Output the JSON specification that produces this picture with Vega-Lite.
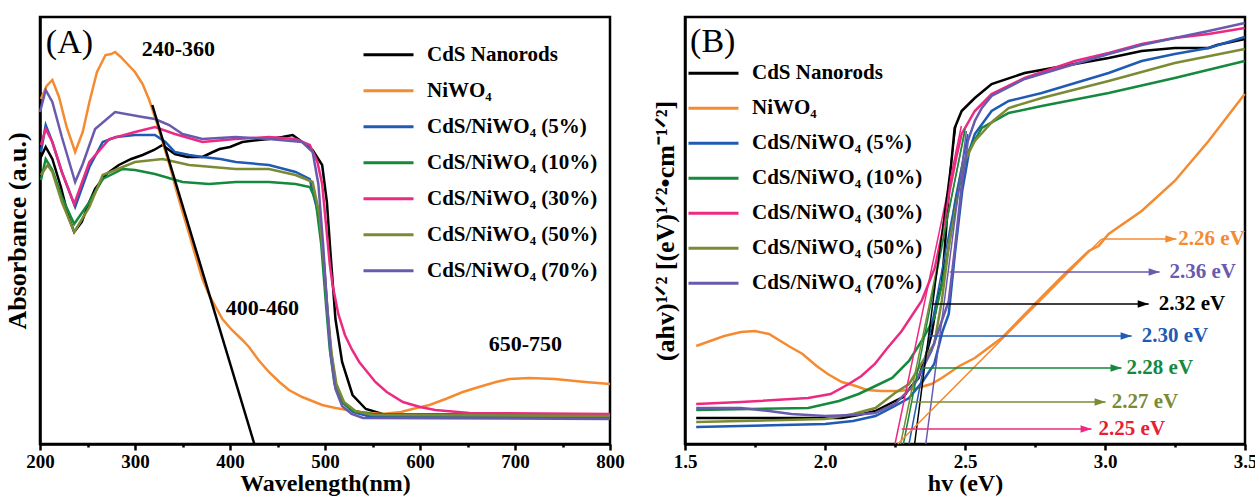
{
  "$schema": "https://vega.github.io/schema/vega-lite/v6.json",
  "background": "white",
  "padding": {"left": 2, "top": 15, "right": 0, "bottom": 0},
  "bounds": "flush",
  "spacing": 75,
  "config": {
    "view": {"stroke": "black", "strokeWidth": 2.5},
    "font": "Liberation Serif",
    "axis": {"domainColor": "black", "domainWidth": 2.5, "tickColor": "black", "tickWidth": 2.5, "labelFont": "Liberation Serif", "labelFontWeight": "bold", "labelFontSize": 19, "labelColor": "black", "titleFont": "Liberation Serif", "titleFontWeight": "bold", "titleFontSize": 26, "titleColor": "black", "grid": false},
    "axisX": {"labelPadding": 2, "titlePadding": 0, "titleFontSize": 24, "labelFlush": false, "labelOverlap": false},
    "axisY": {"ticks": false, "labels": false, "titlePadding": 10},
    "legend": {"orient": "none", "symbolType": "stroke", "symbolSize": 2500, "symbolStrokeWidth": 3, "labelFont": "Liberation Serif", "labelFontWeight": "bold", "labelFontSize": 21, "labelColor": "black", "labelOffset": 12, "labelLimit": 400, "rowPadding": 0, "padding": 0, "title": null}
  },
  "resolve": {"scale": {"color": "independent", "fill": "independent"}, "legend": {"color": "independent"}},
  "datasets": {
    "A": [
      {"s":"CdS","x":200,"y":2.85},{"s":"CdS","x":206,"y":2.97},{"s":"CdS","x":213,"y":2.85},{"s":"CdS","x":222,"y":2.57},{"s":"CdS","x":230,"y":2.27},{"s":"CdS","x":236,"y":2.12},{"s":"CdS","x":244,"y":2.22},{"s":"CdS","x":252,"y":2.42},{"s":"CdS","x":258,"y":2.55},{"s":"CdS","x":270,"y":2.70},{"s":"CdS","x":283,"y":2.79},{"s":"CdS","x":296,"y":2.85},{"s":"CdS","x":308,"y":2.89},{"s":"CdS","x":320,"y":2.94},{"s":"CdS","x":329,"y":2.99},{"s":"CdS","x":336,"y":2.94},{"s":"CdS","x":342,"y":2.90},{"s":"CdS","x":355,"y":2.87},{"s":"CdS","x":371,"y":2.87},{"s":"CdS","x":382,"y":2.92},{"s":"CdS","x":389,"y":2.95},{"s":"CdS","x":400,"y":2.97},{"s":"CdS","x":413,"y":3.02},{"s":"CdS","x":430,"y":3.04},{"s":"CdS","x":441,"y":3.05},{"s":"CdS","x":455,"y":3.07},{"s":"CdS","x":466,"y":3.09},{"s":"CdS","x":476,"y":3.02},{"s":"CdS","x":487,"y":2.94},{"s":"CdS","x":497,"y":2.79},{"s":"CdS","x":502,"y":2.42},{"s":"CdS","x":505.7,"y":1.92},{"s":"CdS","x":511,"y":1.25},{"s":"CdS","x":518,"y":0.82},{"s":"CdS","x":529,"y":0.49},{"s":"CdS","x":543,"y":0.35},{"s":"CdS","x":564,"y":0.29},{"s":"CdS","x":600,"y":0.27},{"s":"CdS","x":700,"y":0.27},{"s":"CdS","x":800,"y":0.27},
      {"s":"NiWO4","x":201,"y":3.45},{"s":"NiWO4","x":207,"y":3.58},{"s":"NiWO4","x":213,"y":3.64},{"s":"NiWO4","x":220,"y":3.47},{"s":"NiWO4","x":228,"y":3.17},{"s":"NiWO4","x":237,"y":2.92},{"s":"NiWO4","x":245,"y":3.12},{"s":"NiWO4","x":252,"y":3.42},{"s":"NiWO4","x":260,"y":3.72},{"s":"NiWO4","x":269,"y":3.89},{"s":"NiWO4","x":275,"y":3.90},{"s":"NiWO4","x":279,"y":3.92},{"s":"NiWO4","x":285,"y":3.87},{"s":"NiWO4","x":292,"y":3.80},{"s":"NiWO4","x":300,"y":3.72},{"s":"NiWO4","x":308,"y":3.60},{"s":"NiWO4","x":315,"y":3.44},{"s":"NiWO4","x":322,"y":3.24},{"s":"NiWO4","x":329,"y":3.02},{"s":"NiWO4","x":336,"y":2.80},{"s":"NiWO4","x":344,"y":2.52},{"s":"NiWO4","x":350,"y":2.32},{"s":"NiWO4","x":357,"y":2.10},{"s":"NiWO4","x":364,"y":1.87},{"s":"NiWO4","x":371,"y":1.65},{"s":"NiWO4","x":378,"y":1.49},{"s":"NiWO4","x":385,"y":1.37},{"s":"NiWO4","x":392,"y":1.25},{"s":"NiWO4","x":402,"y":1.14},{"s":"NiWO4","x":413,"y":1.04},{"s":"NiWO4","x":420,"y":0.97},{"s":"NiWO4","x":430,"y":0.84},{"s":"NiWO4","x":441,"y":0.72},{"s":"NiWO4","x":452,"y":0.62},{"s":"NiWO4","x":462,"y":0.54},{"s":"NiWO4","x":476,"y":0.47},{"s":"NiWO4","x":497,"y":0.39},{"s":"NiWO4","x":511,"y":0.36},{"s":"NiWO4","x":536,"y":0.32},{"s":"NiWO4","x":560,"y":0.30},{"s":"NiWO4","x":580,"y":0.32},{"s":"NiWO4","x":592,"y":0.35},{"s":"NiWO4","x":610,"y":0.39},{"s":"NiWO4","x":627,"y":0.45},{"s":"NiWO4","x":645,"y":0.52},{"s":"NiWO4","x":662,"y":0.57},{"s":"NiWO4","x":680,"y":0.62},{"s":"NiWO4","x":694,"y":0.65},{"s":"NiWO4","x":715,"y":0.66},{"s":"NiWO4","x":742,"y":0.65},{"s":"NiWO4","x":774,"y":0.62},{"s":"NiWO4","x":800,"y":0.60},
      {"s":"5","x":201,"y":2.92},{"s":"5","x":206,"y":3.19},{"s":"5","x":213,"y":3.02},{"s":"5","x":223,"y":2.72},{"s":"5","x":237,"y":2.37},{"s":"5","x":252,"y":2.77},{"s":"5","x":266,"y":3.02},{"s":"5","x":280,"y":3.07},{"s":"5","x":300,"y":3.09},{"s":"5","x":321,"y":3.09},{"s":"5","x":332,"y":3.02},{"s":"5","x":342,"y":2.92},{"s":"5","x":357,"y":2.89},{"s":"5","x":371,"y":2.87},{"s":"5","x":390,"y":2.85},{"s":"5","x":406,"y":2.82},{"s":"5","x":441,"y":2.79},{"s":"5","x":469,"y":2.72},{"s":"5","x":484,"y":2.65},{"s":"5","x":487,"y":2.52},{"s":"5","x":493,"y":2.30},{"s":"5","x":498,"y":1.90},{"s":"5","x":502,"y":1.40},{"s":"5","x":506,"y":0.95},{"s":"5","x":511,"y":0.60},{"s":"5","x":518,"y":0.42},{"s":"5","x":530,"y":0.32},{"s":"5","x":545,"y":0.28},{"s":"5","x":600,"y":0.27},{"s":"5","x":800,"y":0.27},
      {"s":"10","x":201,"y":2.64},{"s":"10","x":206,"y":2.85},{"s":"10","x":213,"y":2.74},{"s":"10","x":223,"y":2.47},{"s":"10","x":236,"y":2.20},{"s":"10","x":252,"y":2.42},{"s":"10","x":266,"y":2.65},{"s":"10","x":287,"y":2.75},{"s":"10","x":300,"y":2.74},{"s":"10","x":321,"y":2.70},{"s":"10","x":350,"y":2.62},{"s":"10","x":378,"y":2.60},{"s":"10","x":406,"y":2.62},{"s":"10","x":441,"y":2.62},{"s":"10","x":469,"y":2.60},{"s":"10","x":484,"y":2.57},{"s":"10","x":490,"y":2.45},{"s":"10","x":496,"y":2.00},{"s":"10","x":501,"y":1.40},{"s":"10","x":505,"y":0.95},{"s":"10","x":510,"y":0.60},{"s":"10","x":518,"y":0.42},{"s":"10","x":530,"y":0.33},{"s":"10","x":550,"y":0.30},{"s":"10","x":800,"y":0.29},
      {"s":"30","x":201,"y":2.99},{"s":"30","x":206,"y":3.15},{"s":"30","x":213,"y":3.02},{"s":"30","x":223,"y":2.72},{"s":"30","x":236,"y":2.40},{"s":"30","x":252,"y":2.82},{"s":"30","x":273,"y":3.05},{"s":"30","x":300,"y":3.12},{"s":"30","x":321,"y":3.17},{"s":"30","x":342,"y":3.10},{"s":"30","x":371,"y":3.02},{"s":"30","x":406,"y":3.05},{"s":"30","x":441,"y":3.07},{"s":"30","x":469,"y":3.05},{"s":"30","x":484,"y":2.99},{"s":"30","x":492,"y":2.82},{"s":"30","x":497,"y":2.60},{"s":"30","x":502,"y":2.10},{"s":"30","x":505,"y":1.80},{"s":"30","x":508,"y":1.59},{"s":"30","x":514,"y":1.30},{"s":"30","x":521,"y":1.09},{"s":"30","x":528,"y":0.95},{"s":"30","x":536,"y":0.82},{"s":"30","x":553,"y":0.62},{"s":"30","x":565,"y":0.52},{"s":"30","x":582,"y":0.42},{"s":"30","x":600,"y":0.37},{"s":"30","x":616,"y":0.34},{"s":"30","x":652,"y":0.31},{"s":"30","x":800,"y":0.30},
      {"s":"50","x":201,"y":2.69},{"s":"50","x":208,"y":2.79},{"s":"50","x":213,"y":2.72},{"s":"50","x":223,"y":2.42},{"s":"50","x":236,"y":2.12},{"s":"50","x":252,"y":2.37},{"s":"50","x":266,"y":2.69},{"s":"50","x":300,"y":2.82},{"s":"50","x":329,"y":2.85},{"s":"50","x":357,"y":2.79},{"s":"50","x":406,"y":2.75},{"s":"50","x":441,"y":2.75},{"s":"50","x":469,"y":2.69},{"s":"50","x":487,"y":2.62},{"s":"50","x":494,"y":2.30},{"s":"50","x":499,"y":1.80},{"s":"50","x":503,"y":1.30},{"s":"50","x":507,"y":0.90},{"s":"50","x":512,"y":0.60},{"s":"50","x":520,"y":0.42},{"s":"50","x":532,"y":0.33},{"s":"50","x":550,"y":0.29},{"s":"50","x":800,"y":0.28},
      {"s":"70","x":200,"y":3.32},{"s":"70","x":206,"y":3.54},{"s":"70","x":213,"y":3.42},{"s":"70","x":223,"y":3.07},{"s":"70","x":237,"y":2.62},{"s":"70","x":245,"y":2.80},{"s":"70","x":258,"y":3.15},{"s":"70","x":279,"y":3.32},{"s":"70","x":308,"y":3.27},{"s":"70","x":321,"y":3.25},{"s":"70","x":336,"y":3.19},{"s":"70","x":350,"y":3.10},{"s":"70","x":371,"y":3.05},{"s":"70","x":406,"y":3.07},{"s":"70","x":441,"y":3.05},{"s":"70","x":476,"y":3.02},{"s":"70","x":487,"y":2.92},{"s":"70","x":493,"y":2.60},{"s":"70","x":498,"y":2.00},{"s":"70","x":502,"y":1.40},{"s":"70","x":506,"y":0.90},{"s":"70","x":511,"y":0.55},{"s":"70","x":518,"y":0.38},{"s":"70","x":528,"y":0.30},{"s":"70","x":540,"y":0.26},{"s":"70","x":800,"y":0.25}
    ],
    "Atan": [{"x":318.2,"y":3.39},{"x":425.6,"y":0}],
    "Alab": [{"x":345.6,"y":3.95,"t":"240-360"},{"x":434,"y":1.36,"t":"400-460"},{"x":711,"y":1.0,"t":"650-750"}],
    "B": [
      {"s":"CdS","x":1.54,"y":0.26},{"s":"CdS","x":1.8,"y":0.26},{"s":"CdS","x":2.06,"y":0.26},{"s":"CdS","x":2.12,"y":0.29},{"s":"CdS","x":2.18,"y":0.33},{"s":"CdS","x":2.25,"y":0.43},{"s":"CdS","x":2.28,"y":0.47},{"s":"CdS","x":2.30,"y":0.55},{"s":"CdS","x":2.334,"y":0.66},{"s":"CdS","x":2.36,"y":0.88},{"s":"CdS","x":2.381,"y":1.10},{"s":"CdS","x":2.40,"y":1.43},{"s":"CdS","x":2.417,"y":1.60},{"s":"CdS","x":2.427,"y":1.93},{"s":"CdS","x":2.445,"y":2.63},{"s":"CdS","x":2.463,"y":3.16},{"s":"CdS","x":2.488,"y":3.33},{"s":"CdS","x":2.535,"y":3.46},{"s":"CdS","x":2.595,"y":3.60},{"s":"CdS","x":2.713,"y":3.71},{"s":"CdS","x":2.892,"y":3.80},{"s":"CdS","x":3.013,"y":3.86},{"s":"CdS","x":3.131,"y":3.93},{"s":"CdS","x":3.249,"y":3.96},{"s":"CdS","x":3.37,"y":3.96},{"s":"CdS","x":3.40,"y":3.99},{"s":"CdS","x":3.499,"y":4.05},
      {"s":"NiWO4","x":1.54,"y":0.98},{"s":"NiWO4","x":1.64,"y":1.08},{"s":"NiWO4","x":1.70,"y":1.12},{"s":"NiWO4","x":1.75,"y":1.13},{"s":"NiWO4","x":1.80,"y":1.10},{"s":"NiWO4","x":1.87,"y":0.98},{"s":"NiWO4","x":1.92,"y":0.90},{"s":"NiWO4","x":1.97,"y":0.78},{"s":"NiWO4","x":2.01,"y":0.70},{"s":"NiWO4","x":2.06,"y":0.62},{"s":"NiWO4","x":2.11,"y":0.58},{"s":"NiWO4","x":2.15,"y":0.54},{"s":"NiWO4","x":2.20,"y":0.53},{"s":"NiWO4","x":2.27,"y":0.53},{"s":"NiWO4","x":2.33,"y":0.56},{"s":"NiWO4","x":2.38,"y":0.60},{"s":"NiWO4","x":2.417,"y":0.66},{"s":"NiWO4","x":2.48,"y":0.78},{"s":"NiWO4","x":2.535,"y":0.86},{"s":"NiWO4","x":2.631,"y":1.06},{"s":"NiWO4","x":2.749,"y":1.40},{"s":"NiWO4","x":2.856,"y":1.70},{"s":"NiWO4","x":2.942,"y":1.93},{"s":"NiWO4","x":2.977,"y":1.98},{"s":"NiWO4","x":3.013,"y":2.10},{"s":"NiWO4","x":3.131,"y":2.33},{"s":"NiWO4","x":3.249,"y":2.63},{"s":"NiWO4","x":3.37,"y":3.03},{"s":"NiWO4","x":3.499,"y":3.50},
      {"s":"5","x":1.54,"y":0.17},{"s":"5","x":2.0,"y":0.20},{"s":"5","x":2.10,"y":0.23},{"s":"5","x":2.18,"y":0.28},{"s":"5","x":2.25,"y":0.38},{"s":"5","x":2.30,"y":0.46},{"s":"5","x":2.35,"y":0.63},{"s":"5","x":2.39,"y":0.80},{"s":"5","x":2.42,"y":1.13},{"s":"5","x":2.442,"y":1.30},{"s":"5","x":2.465,"y":1.93},{"s":"5","x":2.49,"y":2.53},{"s":"5","x":2.515,"y":2.93},{"s":"5","x":2.535,"y":3.10},{"s":"5","x":2.595,"y":3.33},{"s":"5","x":2.656,"y":3.43},{"s":"5","x":2.774,"y":3.51},{"s":"5","x":3.013,"y":3.71},{"s":"5","x":3.131,"y":3.83},{"s":"5","x":3.249,"y":3.90},{"s":"5","x":3.37,"y":3.96},{"s":"5","x":3.499,"y":4.07},
      {"s":"10","x":1.54,"y":0.34},{"s":"10","x":1.94,"y":0.36},{"s":"10","x":2.05,"y":0.43},{"s":"10","x":2.12,"y":0.50},{"s":"10","x":2.18,"y":0.58},{"s":"10","x":2.24,"y":0.66},{"s":"10","x":2.30,"y":0.83},{"s":"10","x":2.345,"y":1.03},{"s":"10","x":2.39,"y":1.26},{"s":"10","x":2.42,"y":1.63},{"s":"10","x":2.445,"y":2.03},{"s":"10","x":2.47,"y":2.43},{"s":"10","x":2.49,"y":2.73},{"s":"10","x":2.513,"y":2.93},{"s":"10","x":2.56,"y":3.16},{"s":"10","x":2.656,"y":3.31},{"s":"10","x":2.774,"y":3.38},{"s":"10","x":3.013,"y":3.51},{"s":"10","x":3.249,"y":3.66},{"s":"10","x":3.499,"y":3.83},
      {"s":"30","x":1.54,"y":0.40},{"s":"30","x":1.70,"y":0.42},{"s":"30","x":1.94,"y":0.46},{"s":"30","x":2.02,"y":0.50},{"s":"30","x":2.085,"y":0.60},{"s":"30","x":2.13,"y":0.68},{"s":"30","x":2.178,"y":0.80},{"s":"30","x":2.22,"y":0.95},{"s":"30","x":2.274,"y":1.13},{"s":"30","x":2.345,"y":1.43},{"s":"30","x":2.392,"y":1.76},{"s":"30","x":2.42,"y":2.13},{"s":"30","x":2.445,"y":2.53},{"s":"30","x":2.47,"y":2.88},{"s":"30","x":2.488,"y":3.10},{"s":"30","x":2.535,"y":3.33},{"s":"30","x":2.595,"y":3.50},{"s":"30","x":2.713,"y":3.66},{"s":"30","x":2.892,"y":3.83},{"s":"30","x":3.013,"y":3.91},{"s":"30","x":3.131,"y":4.00},{"s":"30","x":3.249,"y":4.06},{"s":"30","x":3.37,"y":4.10},{"s":"30","x":3.499,"y":4.16},
      {"s":"50","x":1.54,"y":0.22},{"s":"50","x":2.0,"y":0.25},{"s":"50","x":2.10,"y":0.30},{"s":"50","x":2.18,"y":0.36},{"s":"50","x":2.25,"y":0.51},{"s":"50","x":2.30,"y":0.60},{"s":"50","x":2.35,"y":0.83},{"s":"50","x":2.39,"y":1.00},{"s":"50","x":2.417,"y":1.43},{"s":"50","x":2.44,"y":1.93},{"s":"50","x":2.465,"y":2.43},{"s":"50","x":2.49,"y":2.78},{"s":"50","x":2.535,"y":3.03},{"s":"50","x":2.60,"y":3.23},{"s":"50","x":2.656,"y":3.36},{"s":"50","x":2.774,"y":3.46},{"s":"50","x":3.013,"y":3.63},{"s":"50","x":3.249,"y":3.81},{"s":"50","x":3.499,"y":3.95},
      {"s":"70","x":1.54,"y":0.36},{"s":"70","x":1.70,"y":0.36},{"s":"70","x":1.80,"y":0.33},{"s":"70","x":1.88,"y":0.30},{"s":"70","x":2.0,"y":0.28},{"s":"70","x":2.10,"y":0.29},{"s":"70","x":2.18,"y":0.31},{"s":"70","x":2.25,"y":0.40},{"s":"70","x":2.32,"y":0.60},{"s":"70","x":2.38,"y":0.93},{"s":"70","x":2.442,"y":1.43},{"s":"70","x":2.463,"y":1.93},{"s":"70","x":2.49,"y":2.63},{"s":"70","x":2.51,"y":3.03},{"s":"70","x":2.535,"y":3.23},{"s":"70","x":2.56,"y":3.36},{"s":"70","x":2.595,"y":3.48},{"s":"70","x":2.713,"y":3.65},{"s":"70","x":2.892,"y":3.80},{"s":"70","x":3.013,"y":3.90},{"s":"70","x":3.131,"y":3.99},{"s":"70","x":3.249,"y":4.06},{"s":"70","x":3.37,"y":4.13},{"s":"70","x":3.499,"y":4.21}
    ],
    "Btan": [
      {"s":"30","x":2.25,"y":0},{"s":"30","x":2.487,"y":3.18},
      {"s":"50","x":2.27,"y":0},{"s":"50","x":2.50,"y":3.13},
      {"s":"10","x":2.28,"y":0},{"s":"10","x":2.50,"y":3.15},
      {"s":"5","x":2.30,"y":0},{"s":"5","x":2.51,"y":3.10},
      {"s":"CdS","x":2.32,"y":0},{"s":"CdS","x":2.468,"y":3.20},
      {"s":"70","x":2.36,"y":0},{"s":"70","x":2.505,"y":3.13},
      {"s":"NiWO4","x":2.26,"y":0},{"s":"NiWO4","x":2.988,"y":2.05}
    ],
    "Barr": [
      {"s":"70","x":2.445,"x2":3.195,"y":1.72},
      {"s":"CdS","x":2.381,"x2":3.156,"y":1.40},
      {"s":"5","x":2.370,"x2":3.095,"y":1.08},
      {"s":"10","x":2.345,"x2":3.059,"y":0.76},
      {"s":"50","x":2.309,"x2":3.002,"y":0.42},
      {"s":"30","x":2.274,"x2":2.952,"y":0.15},
      {"s":"NiWO4","x":2.988,"x2":3.255,"y":2.05}
    ],
    "Blab": [
      {"s":"70","x":3.23,"y":1.72,"t":"2.36 eV"},
      {"s":"CdS","x":3.192,"y":1.40,"t":"2.32 eV"},
      {"s":"5","x":3.131,"y":1.08,"t":"2.30 eV"},
      {"s":"10","x":3.077,"y":0.76,"t":"2.28 eV"},
      {"s":"50","x":3.024,"y":0.42,"t":"2.27 eV"},
      {"s":"30","x":2.977,"y":0.15,"t":"2.25 eV"},
      {"s":"NiWO4","x":3.262,"y":2.05,"t":"2.26 eV"}
    ]
  },
  "hconcat": [
    {
      "width": 570,
      "height": 427,
      "layer": [
        {
          "data": {"name": "A"},
          "mark": {"type": "line", "strokeWidth": 2.5},
          "encoding": {
            "x": {"field": "x", "type": "quantitative", "scale": {"domain": [200, 800], "nice": false},
              "axis": {"title": "Wavelength(nm)", "values": [200,250,300,350,400,450,500,550,600,650,700,750,800],
                "labelExpr": "datum.value % 100 === 0 ? datum.label : ''",
                "tickSize": {"condition": {"test": "datum.value % 100 === 0", "value": 6}, "value": 3}}},
            "y": {"field": "y", "type": "quantitative", "scale": {"domain": [0, 4.27], "nice": false}, "axis": {"title": "Absorbance (a.u.)"}},
            "color": {"field": "s", "type": "nominal",
              "scale": {"domain": ["CdS","NiWO4","5","10","30","50","70"], "range": ["#000000","#f48b31","#1f5bb4","#15893d","#ec2a82","#7b8b34","#6a5aae"]},
              "legend": {"legendX": 322, "legendY": 20, "clipHeight": 35.5, "labelExpr": "datum.label == 'CdS' ? 'CdS Nanorods' : datum.label == 'NiWO4' ? 'NiWO₄' : 'CdS/NiWO₄ (' + datum.label + '%)'"}}
          }
        },
        {
          "data": {"name": "Atan"},
          "mark": {"type": "line", "color": "black", "strokeWidth": 2.5},
          "encoding": {"x": {"field": "x", "type": "quantitative"}, "y": {"field": "y", "type": "quantitative"}}
        },
        {
          "data": {"name": "Alab"},
          "mark": {"type": "text", "font": "Liberation Serif", "fontWeight": "bold", "fontSize": 22, "color": "black", "align": "center", "baseline": "middle"},
          "encoding": {"x": {"field": "x", "type": "quantitative"}, "y": {"field": "y", "type": "quantitative"}, "text": {"field": "t"}}
        },
        {
          "data": {"values": [{"x": 231, "y": 4.01, "t": "(A)"}]},
          "mark": {"type": "text", "font": "Liberation Serif", "fontWeight": "normal", "fontSize": 34, "color": "black", "align": "center", "baseline": "middle"},
          "encoding": {"x": {"field": "x", "type": "quantitative"}, "y": {"field": "y", "type": "quantitative"}, "text": {"field": "t"}}
        }
      ]
    },
    {
      "width": 560,
      "height": 427,
      "layer": [
        {
          "data": {"name": "B"},
          "mark": {"type": "line", "strokeWidth": 2.5},
          "encoding": {
            "x": {"field": "x", "type": "quantitative", "scale": {"domain": [1.5, 3.5], "nice": false},
              "axis": {"title": "hv (eV)", "values": [1.5,1.75,2,2.25,2.5,2.75,3,3.25,3.5],
                "labelExpr": "abs(datum.value*2 - round(datum.value*2)) < 0.001 ? format(datum.value, '.1f') : ''",
                "tickSize": {"condition": {"test": "abs(datum.value*2 - round(datum.value*2)) < 0.001", "value": 6}, "value": 3}}},
            "y": {"field": "y", "type": "quantitative", "scale": {"domain": [0, 4.27], "nice": false}, "axis": {"title": "(ahv)¹ᐟ² [(eV)¹ᐟ²•cm⁻¹ᐟ²]", "titlePadding": 7}},
            "color": {"field": "s", "type": "nominal",
              "scale": {"domain": ["CdS","NiWO4","5","10","30","50","70"], "range": ["#000000","#f48b31","#1f5bb4","#15893d","#ec2a82","#7b8b34","#6a5aae"]},
              "legend": {"legendX": 2, "legendY": 39, "clipHeight": 34.7, "labelExpr": "datum.label == 'CdS' ? 'CdS Nanorods' : datum.label == 'NiWO4' ? 'NiWO₄' : 'CdS/NiWO₄ (' + datum.label + '%)'"}}
          }
        },
        {
          "data": {"name": "Btan"},
          "mark": {"type": "line", "strokeWidth": 1.5},
          "encoding": {"x": {"field": "x", "type": "quantitative"}, "y": {"field": "y", "type": "quantitative"}, "color": {"field": "s", "type": "nominal", "legend": null}}
        },
        {
          "data": {"name": "Barr"},
          "mark": {"type": "rule", "strokeWidth": 1.5},
          "encoding": {"x": {"field": "x", "type": "quantitative"}, "x2": {"field": "x2"}, "y": {"field": "y", "type": "quantitative"}, "color": {"field": "s", "type": "nominal", "legend": null}}
        },
        {
          "data": {"name": "Barr"},
          "mark": {"type": "point", "shape": "M0,0L-2,-0.7L-2,0.7Z", "filled": true, "size": 121, "opacity": 1},
          "encoding": {"x": {"field": "x2", "type": "quantitative"}, "y": {"field": "y", "type": "quantitative"}, "color": {"field": "s", "type": "nominal", "legend": null}}
        },
        {
          "data": {"name": "Blab"},
          "mark": {"type": "text", "font": "Liberation Serif", "fontWeight": "bold", "fontSize": 21, "align": "left", "baseline": "middle"},
          "encoding": {"x": {"field": "x", "type": "quantitative"}, "y": {"field": "y", "type": "quantitative"}, "text": {"field": "t"},
            "fill": {"field": "s", "type": "nominal", "legend": null,
              "scale": {"domain": ["CdS","NiWO4","5","10","30","50","70"], "range": ["#000000","#f48b31","#1f5bb4","#15893d","#e8202f","#7b8b34","#6a5aae"]}}}
        },
        {
          "data": {"values": [{"x": 1.599, "y": 4.02, "t": "(B)"}]},
          "mark": {"type": "text", "font": "Liberation Serif", "fontWeight": "normal", "fontSize": 34, "color": "black", "align": "center", "baseline": "middle"},
          "encoding": {"x": {"field": "x", "type": "quantitative"}, "y": {"field": "y", "type": "quantitative"}, "text": {"field": "t"}}
        }
      ]
    }
  ]
}
